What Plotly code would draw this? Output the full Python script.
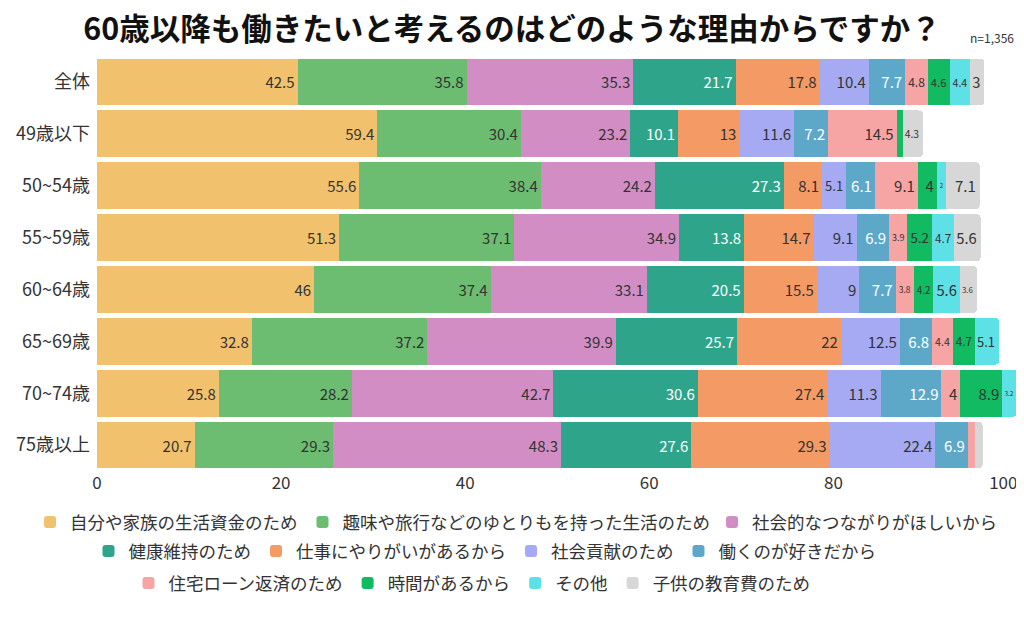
import plotly.graph_objects as go

# age groups (top to bottom)
categories = ["全体", "49歳以下", "50~54歳", "55~59歳", "60~64歳", "65~69歳", "70~74歳", "75歳以上"]

# answers (%), one list per reason; None = not shown
seikatsu = [42.5, 59.4, 55.6, 51.3, 46, 32.8, 25.8, 20.7]
shumi = [35.8, 30.4, 38.4, 37.1, 37.4, 37.2, 28.2, 29.3]
tsunagari = [35.3, 23.2, 24.2, 34.9, 33.1, 39.9, 42.7, 48.3]
kenkou = [21.7, 10.1, 27.3, 13.8, 20.5, 25.7, 30.6, 27.6]
yarigai = [17.8, 13, 8.1, 14.7, 15.5, 22, 27.4, 29.3]
kouken = [10.4, 11.6, 5.1, 9.1, 9, 12.5, 11.3, 22.4]
suki = [7.7, 7.2, 6.1, 6.9, 7.7, 6.8, 12.9, 6.9]
loan = [4.8, 14.5, 9.1, 3.9, 3.8, 4.4, 4, 1.5]
jikan = [4.6, 1.3, 4, 5.2, 4.2, 4.7, 8.9, None]
sonota = [4.4, None, 2, 4.7, 5.6, 5.1, 3.2, None]
kyouiku = [3, 4.3, 7.1, 5.6, 3.6, None, None, 1.6]

# name, values, bar colour, label colour, legend row
series = [
    ("自分や家族の生活資金のため", seikatsu, "#F2C16E", "#333333", "legend"),
    ("趣味や旅行などのゆとりもを持った生活のため", shumi, "#6CBD72", "#333333", "legend"),
    ("社会的なつながりがほしいから", tsunagari, "#D28EC4", "#333333", "legend4"),
    ("健康維持のため", kenkou, "#2EA58B", "#FFFFFF", "legend2"),
    ("仕事にやりがいがあるから", yarigai, "#F39A65", "#333333", "legend2"),
    ("社会貢献のため", kouken, "#A5AAF2", "#333333", "legend2"),
    ("働くのが好きだから", suki, "#5DA8C9", "#FFFFFF", "legend2"),
    ("住宅ローン返済のため", loan, "#F7A4A4", "#333333", "legend3"),
    ("時間があるから", jikan, "#12BA62", "#333333", "legend3"),
    ("その他", sonota, "#5DE0E6", "#333333", "legend3"),
    ("子供の教育費のため", kyouiku, "#D7D7D7", "#333333", "legend3"),
]

tick_vals = [0, 20, 40, 60, 80, 100]
tick_text = ["0", "20", "40", "60", "80", "100"]

FONT = "Noto Sans CJK JP"
W, H = 1024, 621
ML, MR, MT, MB = 89, 9, 48, 158
XRANGE = [0, 100.6]

# bars are drawn relative to the largest row total
totals = [sum(s[1][i] or 0 for s in series) for i in range(len(categories))]
scale = 100 / max(totals)

fig = go.Figure()
for name, vals, color, txtcolor, leg in series:
    x = [v * scale if v is not None else None for v in vals]
    text = ["%g" % v if v is not None and v >= 2 else "" for v in vals]
    fig.add_trace(go.Bar(
        y=categories, x=x, name=name, orientation="h",
        marker=dict(color=color, line=dict(width=0)),
        text=text, textposition="inside", insidetextanchor="end",
        textangle=0, textfont=dict(color=txtcolor, size=15, family=FONT),
        legend=leg, hoverinfo="skip",
    ))

# empty trace so the overlay axis (last tick, kept inside the page) is drawn
fig.add_trace(go.Scatter(x=[], y=[], xaxis="x2", showlegend=False, hoverinfo="skip"))

legend_common = dict(
    orientation="h", xref="container", yref="container",
    yanchor="middle", traceorder="normal",
    font=dict(size=17.5, color="#333333", family=FONT),
    bgcolor="rgba(0,0,0,0)", itemclick=False, tracegroupgap=0,
)

axis_common = dict(
    range=XRANGE, showgrid=False, zeroline=False, showline=False, ticks="",
    tickfont=dict(size=17, color="#333333", family=FONT), fixedrange=True,
)

fig.update_layout(
    width=W, height=H,
    barmode="stack", bargap=0.1, barcornerradius=4,
    paper_bgcolor="white", plot_bgcolor="white",
    font=dict(family=FONT, color="#333333"),
    margin=dict(l=ML, r=MR, t=MT, b=MB, autoexpand=False),
    title=dict(
        text="<b>60歳以降も働きたいと考えるのはどのような理由からですか？</b>",
        x=504 / W, xref="container", xanchor="center",
        y=1 - 21 / H, yref="container", yanchor="middle",
        font=dict(size=30.5, color="#111111", family=FONT),
    ),
    xaxis=dict(tickvals=tick_vals[:-1], ticktext=tick_text[:-1], **axis_common),
    xaxis2=dict(
        overlaying="x", anchor="y", side="bottom",
        tickvals=tick_vals[-1:], ticktext=tick_text[-1:],
        ticklabelposition="outside left", **axis_common,
    ),
    yaxis=dict(
        autorange="reversed", showgrid=False, ticks="", ticklabelstandoff=6,
        tickfont=dict(size=18, color="#333333", family=FONT),
        fixedrange=True,
    ),
    legend=dict(x=22 / W, xanchor="left", y=1 - 514 / H, **legend_common),
    legend4=dict(x=994 / W, xanchor="right", y=1 - 514 / H, **legend_common),
    legend2=dict(x=477 / W, xanchor="center", y=1 - 543 / H, **legend_common),
    legend3=dict(x=464 / W, xanchor="center", y=1 - 575 / H, **legend_common),
    annotations=[dict(
        text="n=1,356", xref="paper", yref="paper",
        x=0.992, xanchor="right", y=1 + 18 / (H - MT - MB), yanchor="middle",
        showarrow=False, font=dict(size=12, color="#333333", family=FONT),
    )],
)

fig.write_html("out.html")
